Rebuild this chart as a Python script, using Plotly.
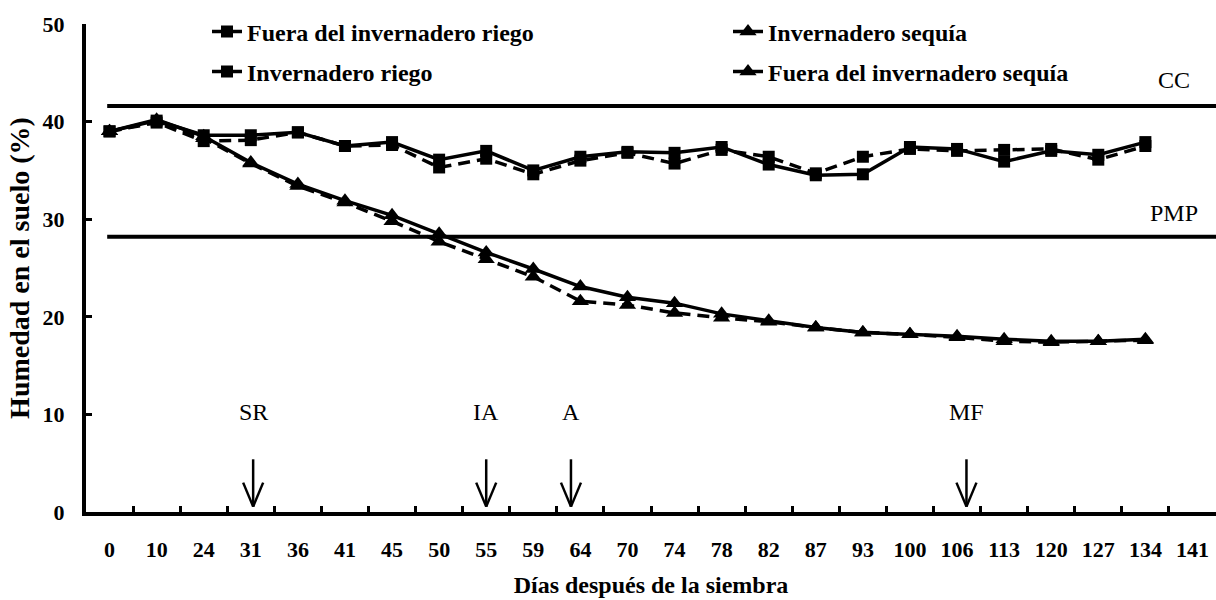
import plotly.graph_objects as go

days = ["0", "10", "24", "31", "36", "41", "45", "50", "55", "59", "64", "70",
        "74", "78", "82", "87", "93", "100", "106", "113", "120", "127", "134", "141"]
data_days = days[:23]

fuera_riego = [39.0, 40.1, 38.6, 38.6, 38.9, 37.5, 37.9, 36.1, 37.0, 35.0, 36.4, 36.9,
               36.8, 37.4, 35.6, 34.5, 34.6, 37.4, 37.2, 35.9, 37.0, 36.6, 37.9]
inv_riego = [39.0, 39.9, 38.0, 38.1, 38.9, 37.5, 37.6, 35.3, 36.2, 34.6, 36.0, 36.8,
             35.7, 37.1, 36.4, 34.7, 36.4, 37.2, 37.0, 37.1, 37.2, 36.1, 37.5]
inv_sequia = [39.0, 40.0, 38.3, 35.7, 33.4, 31.7, 29.8, 27.7, 25.9, 24.1, 21.6, 21.2,
              20.4, 19.9, 19.5, 18.9, 18.4, 18.2, 17.9, 17.5, 17.4, 17.5, 17.6]
fuera_sequia = [39.0, 40.2, 38.5, 35.8, 33.6, 31.9, 30.4, 28.5, 26.6, 24.9, 23.1, 22.0,
                21.4, 20.3, 19.6, 18.9, 18.4, 18.2, 18.0, 17.7, 17.5, 17.5, 17.7]

ref_names = ["CC", "PMP"]
ref_values = [41.6, 28.2]

event_names = ["SR", "IA", "A", "MF"]
event_pos = [3.05, 8.0, 9.8, 18.2]   # category index positions

SERIF = "Liberation Serif"
black = "#000000"

L, R, T, B = 86, 0, 24, 88
W, H = 1216, 600
PW, PH = W - L - R, H - T - B

fig = go.Figure()

series = [
    ("Fuera del invernadero riego", fuera_riego, "solid", "square", 12, "legend"),
    ("Invernadero riego", inv_riego, "12px,7px", "square", 12, "legend2"),
    ("Invernadero sequía", inv_sequia, "12px,7px", "triangle-up", 15, "legend3"),
    ("Fuera del invernadero sequía", fuera_sequia, "solid", "triangle-up", 15, "legend4"),
]
for name, vals, dash, sym, msize, leg in [series[1], series[2], series[0], series[3]]:
    fig.add_trace(go.Scatter(
        x=data_days, y=vals, name=name, mode="lines+markers",
        line=dict(color=black, width=3.5, dash=dash),
        marker=dict(symbol=sym, size=msize, color=black),
        legend=leg, showlegend=True,
    ))

shapes = []
annotations = []
for nm, v in zip(ref_names, ref_values):
    shapes.append(dict(type="line", xref="x", yref="y", x0=-0.05, x1=23.5, y0=v, y1=v,
                       line=dict(color=black, width=4)))
annotations.append(dict(x=22.6, y=44.3, xref="x", yref="y", text="CC", showarrow=False,
                        font=dict(family=SERIF, size=24, color=black)))
annotations.append(dict(x=22.6, y=30.6, xref="x", yref="y", text="PMP", showarrow=False,
                        font=dict(family=SERIF, size=24, color=black)))

for nm, p in zip(event_names, event_pos):
    annotations.append(dict(x=p, y=10.25, xref="x", yref="y", text=nm, showarrow=False,
                            font=dict(family=SERIF, size=24, color=black)))
    shapes.append(dict(type="line", xref="x", yref="y", x0=p, x1=p, y0=0.55, y1=5.4,
                       line=dict(color=black, width=2.5)))
    for side in (-1, 1):
        shapes.append(dict(type="line", xref="x", yref="y",
                           xsizemode="pixel", xanchor=p, x0=side * 10, x1=0,
                           ysizemode="pixel", yanchor=0.55, y0=24, y1=0,
                           line=dict(color=black, width=2.5)))

legfont = dict(family=SERIF, size=24, color=black, weight="bold")

def leg(xpx, ypx):
    return dict(x=(xpx - L) / PW, y=(H - B - ypx) / PH, xref="paper", yref="paper",
                xanchor="left", yanchor="middle", font=legfont,
                bgcolor="rgba(0,0,0,0)", borderwidth=0)

fig.update_layout(
    width=W, height=H,
    margin=dict(l=L, r=R, t=T, b=B, autoexpand=False),
    paper_bgcolor="white", plot_bgcolor="white",
    font=dict(family=SERIF, color=black),
    showlegend=True,
    legend=leg(207, 32),
    legend2=leg(207, 72),
    legend3=leg(728, 32),
    legend4=leg(728, 72),
    shapes=shapes,
    annotations=annotations,
    xaxis=dict(
        type="category", categoryorder="array", categoryarray=days,
        range=[-0.5, 23.5], tickson="boundaries",
        showline=True, linewidth=4, linecolor=black,
        ticks="inside", ticklen=6, tickwidth=3, tickcolor=black,
        showgrid=False, zeroline=False, tickangle=0,
        tickfont=dict(family=SERIF, size=22, color=black, weight="bold"),
        ticklabelstandoff=15,
        title=dict(text="Días después de la siembra", standoff=16,
                   font=dict(family=SERIF, size=24, color=black, weight="bold")),
    ),
    yaxis=dict(
        range=[0, 50], tickvals=[0, 10, 20, 30, 40, 50],
        showline=True, linewidth=4, linecolor=black,
        ticks="inside", ticklen=6, tickwidth=3, tickcolor=black,
        showgrid=False, zeroline=False,
        tickfont=dict(family=SERIF, size=22, color=black, weight="bold"),
        ticklabelstandoff=13,
        title=dict(text="Humedad en el suelo (%)", standoff=6,
                   font=dict(family=SERIF, size=28, color=black, weight="bold")),
    ),
)

fig.write_html("out.html")
